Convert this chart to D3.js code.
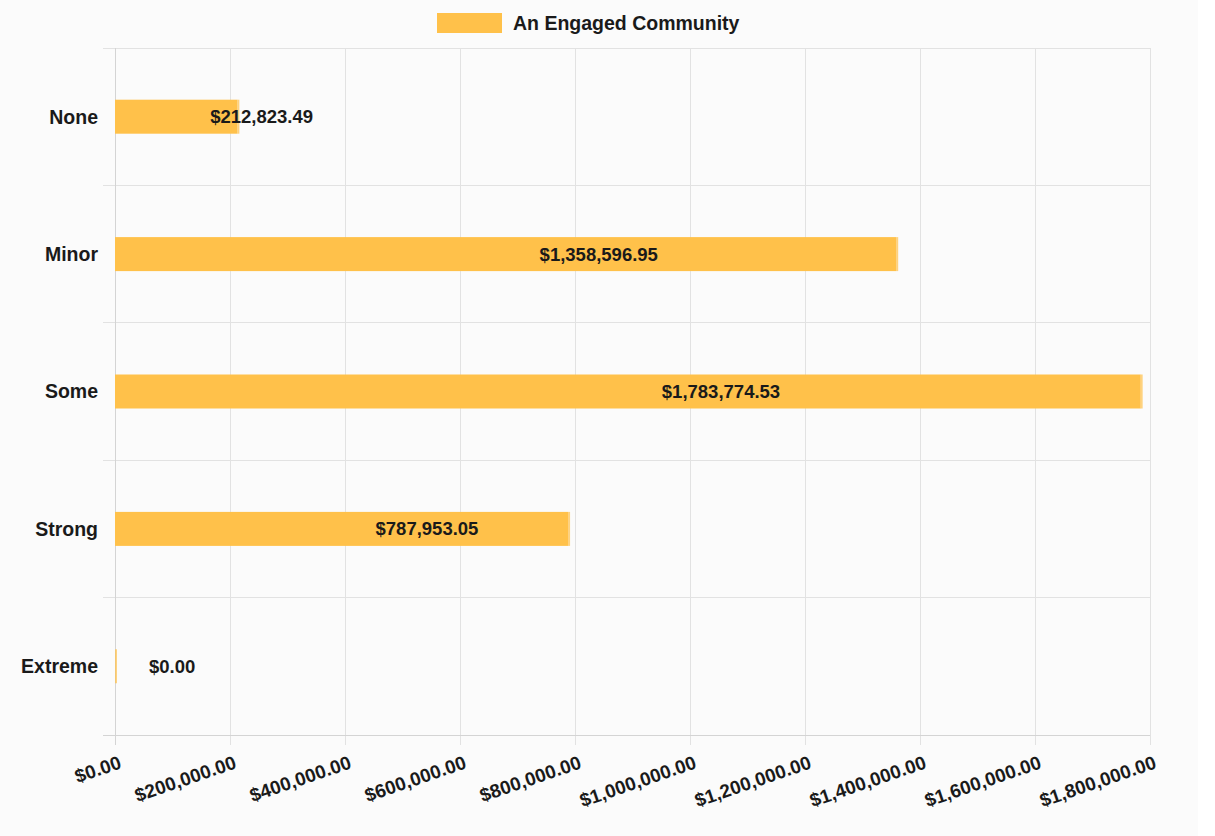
<!DOCTYPE html>
<html>
<head>
<meta charset="utf-8">
<script src="https://cdn.jsdelivr.net/npm/d3@7"></script>
<style>
  html, body { margin: 0; padding: 0; background: #fbfbfb; }
  svg { display: block; font-family: "Liberation Sans", Arial, Helvetica, sans-serif; }
</style>
</head>
<body>
<svg id="chart" width="1215" height="836"></svg>
<script>
// Funding by level of engagement
const categories = ["None", "Minor", "Some", "Strong", "Extreme"];
const values = [212823.49, 1358596.95, 1783774.53, 787953.05, 0];
const seriesName = "An Engaged Community";
const tickValues = [0, 200000, 400000, 600000, 800000, 1000000, 1200000, 1400000, 1600000, 1800000];

const W = 1215, H = 836;
const margin = { top: 48, right: 65, bottom: 101, left: 115 };
const plotW = W - margin.left - margin.right;
const plotH = H - margin.top - margin.bottom;
const barColor = "#ffc14a";
const gridColor = "#e2e2e2";
const textColor = "#1a1a1a";

const money = v => "$" + d3.format(",.2f")(v);

const svg = d3.select("#chart");
svg.append("rect").attr("width", W).attr("height", H).attr("fill", "#fbfbfb");
svg.append("rect").attr("x", 1198).attr("width", W - 1198).attr("height", H).attr("fill", "#ffffff");

const g = svg.append("g").attr("transform", `translate(${margin.left},${margin.top})`);

const x = d3.scaleLinear().domain([0, 1800000]).range([0, plotW]);
const y = d3.scaleBand().domain(categories).range([0, plotH]);

// Vertical grid lines with tick marks below the plot
g.append("g").selectAll("line").data(tickValues).join("line")
  .attr("x1", d => x(d)).attr("x2", d => x(d))
  .attr("y1", 0).attr("y2", plotH + 10)
  .attr("stroke", gridColor).attr("stroke-width", 1)
  .attr("shape-rendering", "crispEdges");

// Horizontal band boundaries with tick marks to the left
const bounds = categories.map(c => y(c)).concat([plotH]);
g.append("g").selectAll("line").data(bounds).join("line")
  .attr("x1", -12).attr("x2", plotW)
  .attr("y1", d => d).attr("y2", d => d)
  .attr("stroke", (d, i) => i === bounds.length - 1 ? "#d4d4d4" : gridColor)
  .attr("stroke-width", 1)
  .attr("shape-rendering", "crispEdges");

// Left axis line
g.append("line").attr("x1", 0).attr("x2", 0).attr("y1", 0).attr("y2", plotH + 10)
  .attr("stroke", "#d4d4d4").attr("shape-rendering", "crispEdges");

// Bars
const barH = 34;
const barY = (i) => y(categories[i]) + y.bandwidth() / 2 - barH / 2;
g.append("g").selectAll("rect").data(values).join("rect")
  .attr("x", 0)
  .attr("y", (d, i) => barY(i))
  .attr("width", d => x(d))
  .attr("height", barH)
  .attr("fill", barColor);

// Bar end borders (keeps zero-valued bars visible)
g.append("g").selectAll("line").data(values).join("line")
  .attr("x1", d => x(d) + 1).attr("x2", d => x(d) + 1)
  .attr("y1", (d, i) => barY(i)).attr("y2", (d, i) => barY(i) + barH)
  .attr("stroke", barColor).attr("stroke-width", 2).attr("stroke-opacity", 0.7);

// Value labels
g.append("g").selectAll("text").data(values).join("text")
  .attr("x", d => x(d / 2) + 34)
  .attr("y", (d, i) => y(categories[i]) + y.bandwidth() / 2)
  .attr("dy", "0.35em")
  .attr("font-size", 18.5).attr("font-weight", "bold").attr("fill", textColor)
  .text(d => money(d));

// Category labels
g.append("g").selectAll("text").data(categories).join("text")
  .attr("x", -17)
  .attr("y", d => y(d) + y.bandwidth() / 2)
  .attr("dy", "0.35em")
  .attr("text-anchor", "end")
  .attr("font-size", 19.5).attr("font-weight", "bold").attr("fill", textColor)
  .text(d => d);

// Rotated x tick labels
g.append("g").selectAll("text").data(tickValues).join("text")
  .attr("transform", d => `translate(${x(d) + 3},${plotH + 20}) rotate(-19)`)
  .attr("dy", "0.71em")
  .attr("text-anchor", "end")
  .attr("font-size", 19).attr("font-weight", "bold").attr("fill", textColor)
  .text(d => money(d));

// Legend
const legend = svg.append("g").attr("transform", "translate(437,13)");
legend.append("rect").attr("width", 65).attr("height", 20).attr("fill", barColor);
legend.append("text").attr("x", 76).attr("y", 10).attr("dy", "0.35em")
  .attr("font-size", 19.5).attr("font-weight", "bold").attr("fill", textColor)
  .text(seriesName);
</script>
</body>
</html>
